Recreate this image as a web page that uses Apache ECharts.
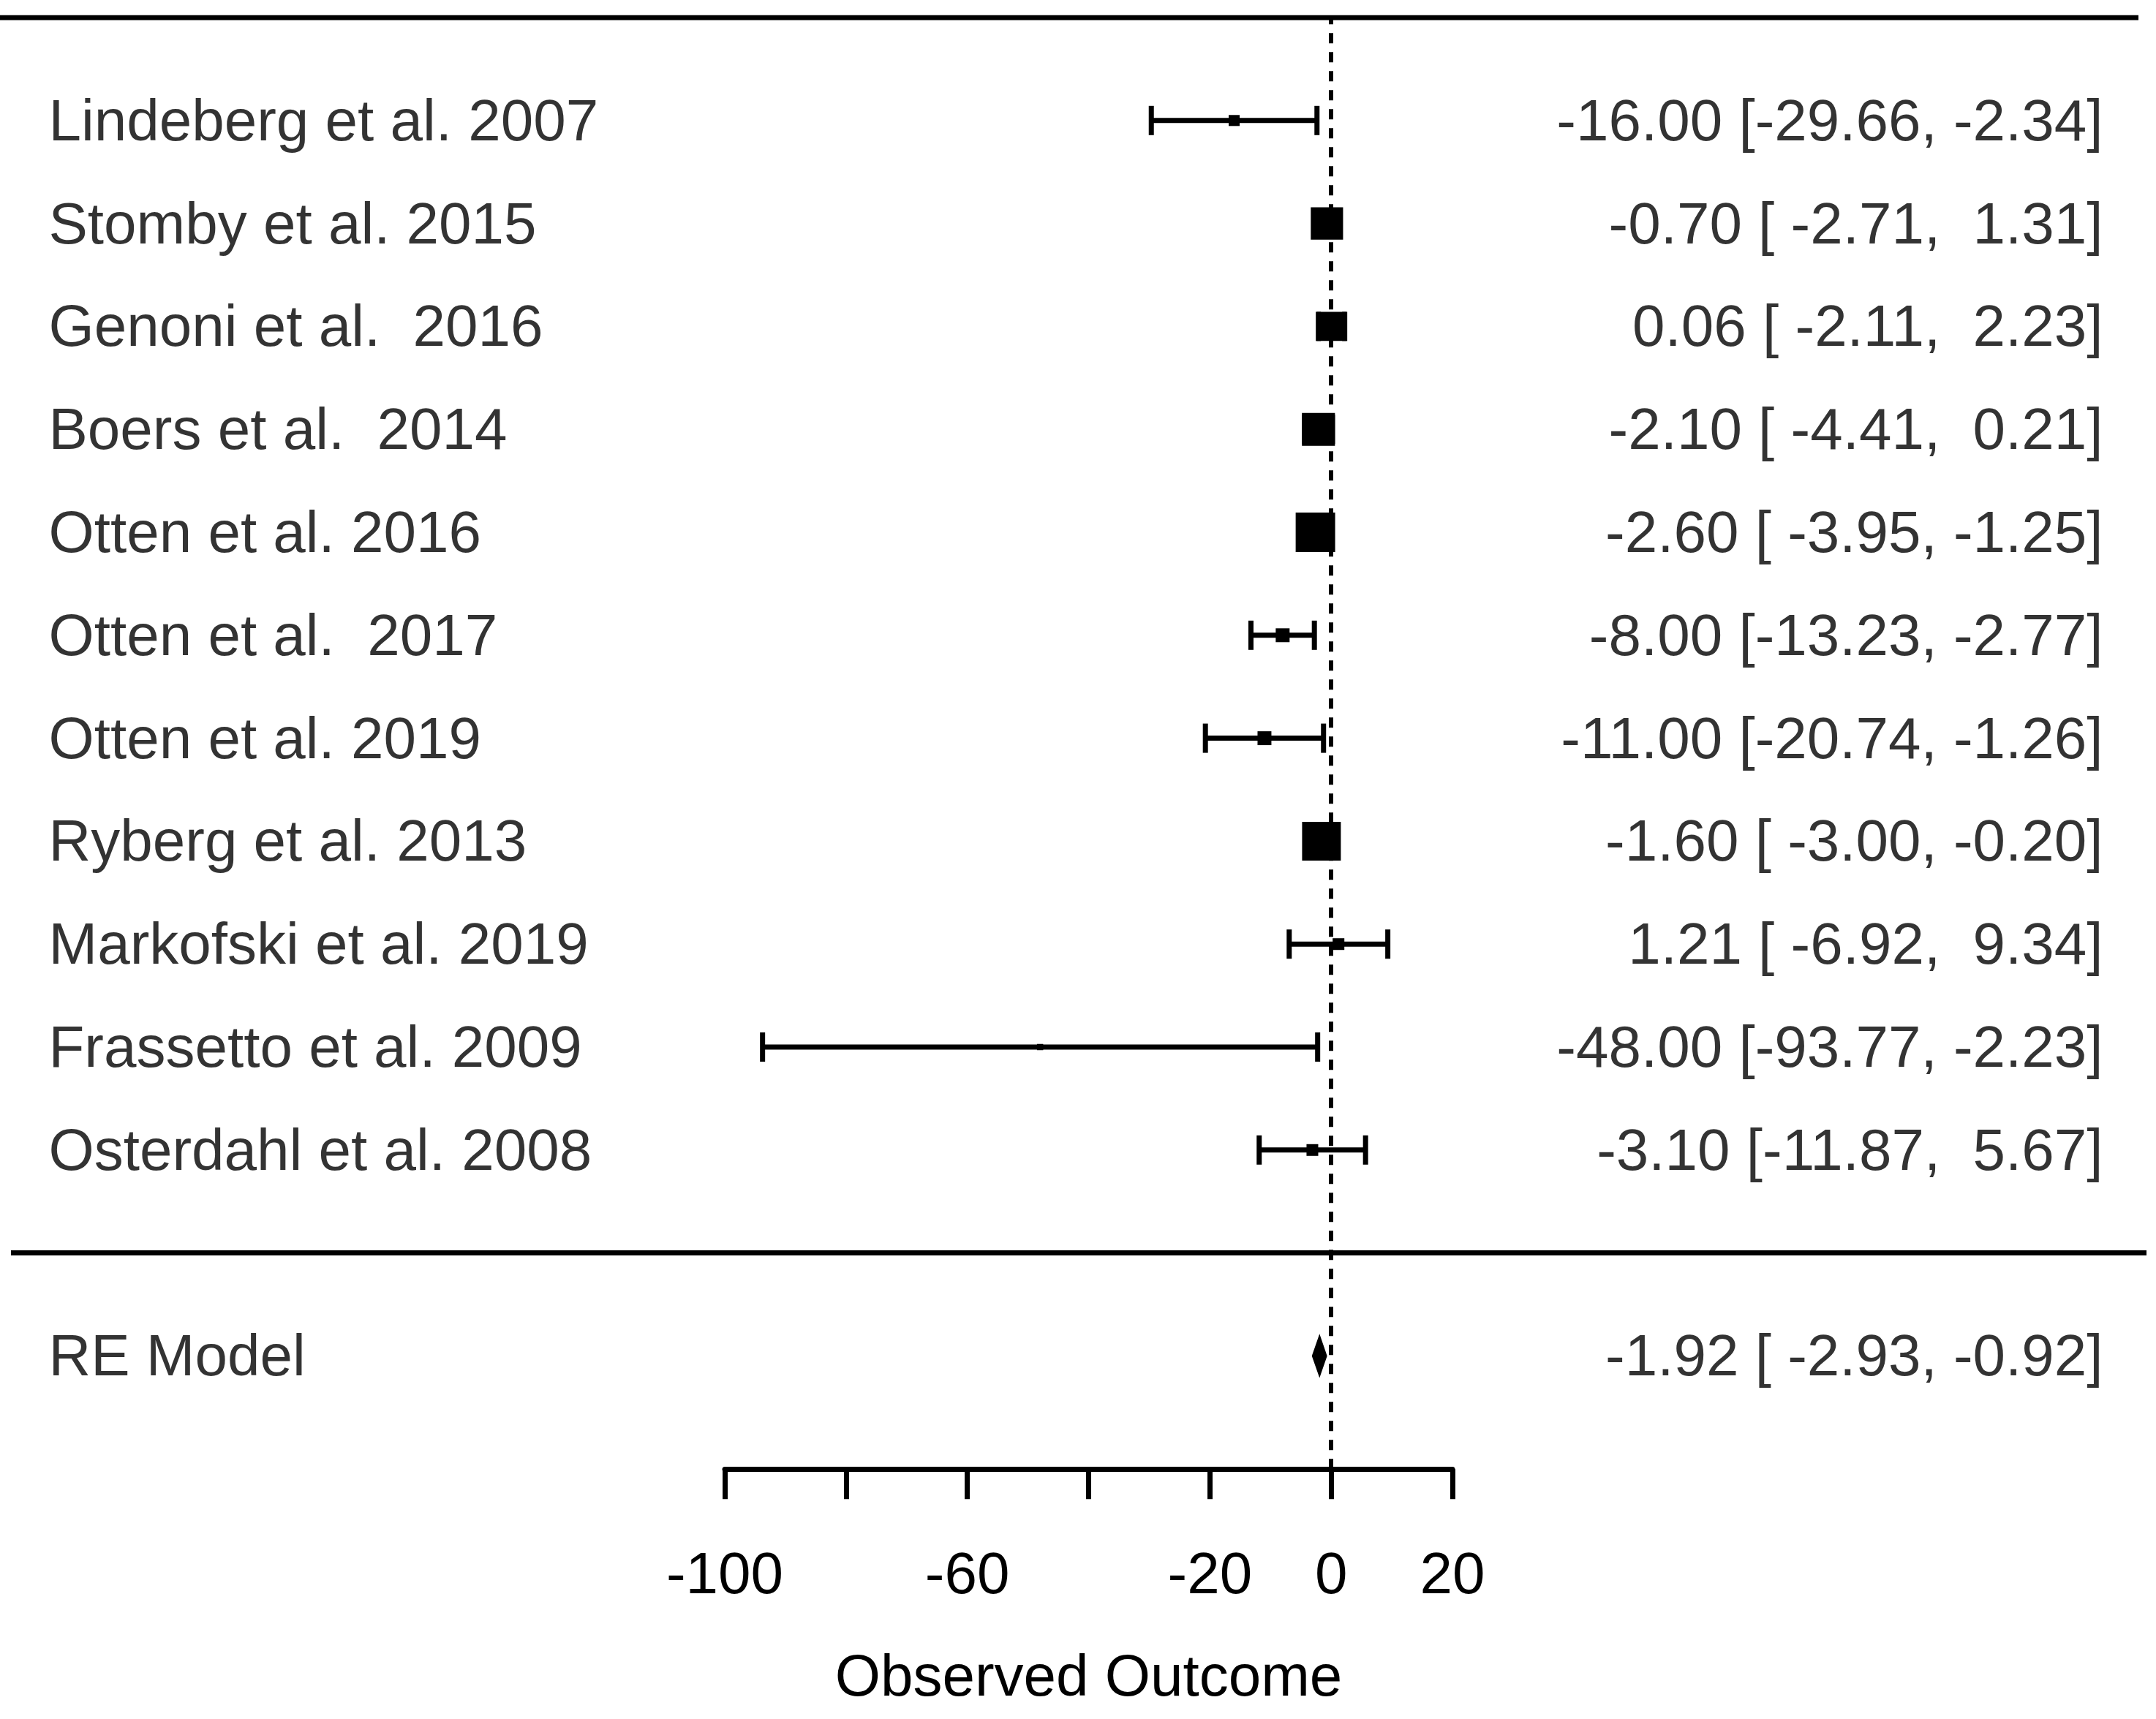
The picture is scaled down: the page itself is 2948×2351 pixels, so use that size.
<!DOCTYPE html>
<html>
<head>
<meta charset="utf-8">
<title>Forest plot</title>
<script src="https://cdn.jsdelivr.net/npm/echarts@6/dist/echarts.min.js"></script>
<style>
  html, body { margin: 0; padding: 0; background: #fff; }
  #chart { width: 2948px; height: 2351px; }
</style>
</head>
<body>
<div id="chart"></div>
<script>
// study data
const studies = ['Lindeberg et al. 2007', 'Stomby et al. 2015', 'Genoni et al.  2016', 'Boers et al.  2014',
    'Otten et al. 2016', 'Otten et al.  2017', 'Otten et al. 2019', 'Ryberg et al. 2013',
    'Markofski et al. 2019', 'Frassetto et al. 2009', 'Osterdahl et al. 2008'];
const estimates = [-16.00, -0.70, 0.06, -2.10, -2.60, -8.00, -11.00, -1.60, 1.21, -48.00, -3.10];
const lower = [-29.66, -2.71, -2.11, -4.41, -3.95, -13.23, -20.74, -3.00, -6.92, -93.77, -11.87];
const upper = [-2.34, 1.31, 2.23, 0.21, -1.25, -2.77, -1.26, -0.20, 9.34, -2.23, 5.67];
// relative box weights (%)
const weights = [4.6, 13.5, 12.2, 13.8, 16.5, 5.8, 5.8, 16.2, 4.9, 2.6, 4.9];

// pooled estimate
const summaryLabel = 'RE Model';
const summaryEst = -1.92;
const summaryLower = -2.93;
const summaryUpper = -0.92;

// x axis
const tickValues = [-100, -80, -60, -40, -20, 0, 20];
const tickLabels = ['-100', '', '-60', '', '-20', '0', '20'];
const axisTitle = 'Observed Outcome';

// layout
const FONT = 'Liberation Sans, Arial, sans-serif';
const FS = 80;
const TOP = 24;
const ROW = 140.8;
const YMIN = -2.1, YMAX = 12;
const PLOT_LEFT = 991, PLOT_W = 995;
const LW = 7;
const PX_PER_UNIT = PLOT_W / (tickValues[tickValues.length - 1] - tickValues[0]);
const X0MIN = tickValues[0] - PLOT_LEFT / PX_PER_UNIT;
const X0MAX = X0MIN + 2948 / PX_PER_UNIT;
const toUnit = px => X0MIN + px / PX_PER_UNIT;

const k = studies.length;
const rows = studies.map((s, i) => k - i);   // 11 .. 1
const summaryRow = -1;

function pad(str, w) {
    while (str.length < w) str = ' ' + str;
    return str;
}
function ciText(e, l, u) {
    return pad(e.toFixed(2), 6) + ' [' + pad(l.toFixed(2), 6) + ', ' + pad(u.toFixed(2), 5) + ']';
}

const leftData = studies.map((s, i) => ({ value: [toUnit(66), rows[i]], name: s }));
leftData.push({ value: [toUnit(66), summaryRow], name: summaryLabel });
const rightData = studies.map((s, i) => ({ value: [toUnit(2876), rows[i]], name: ciText(estimates[i], lower[i], upper[i]) }));
rightData.push({ value: [toUnit(2876), summaryRow], name: ciText(summaryEst, summaryLower, summaryUpper) });

const ciData = studies.map((s, i) => [estimates[i], lower[i], upper[i], rows[i], weights[i]]);

let chart = echarts.init(document.getElementById('chart'), null, { renderer: 'canvas' });

let textLabel = {
    show: true, distance: 0, formatter: p => p.name, offset: [0, 5],
    color: '#000', fontSize: FS, fontFamily: FONT, verticalAlign: 'middle'
};

let option = {
    animation: false,
    backgroundColor: '#fff',
    grid: [
        { left: 0, top: TOP, width: 2948, height: (YMAX - YMIN) * ROW },
        { left: PLOT_LEFT, top: TOP, width: PLOT_W, height: (YMAX - YMIN) * ROW }
    ],
    xAxis: [
        { gridIndex: 0, type: 'value', min: X0MIN, max: X0MAX, show: false },
        {
            gridIndex: 1, type: 'value', min: -100, max: 20, interval: 20,
            position: 'bottom',
            splitLine: { show: false },
            axisLine: { show: true, onZero: false, lineStyle: { color: '#000', width: LW } },
            axisTick: { show: true, inside: false, length: 41, lineStyle: { color: '#000', width: LW } },
            axisLabel: {
                show: true, margin: 108, color: '#000', fontSize: FS, fontFamily: FONT,
                formatter: v => {
                    let idx = tickValues.indexOf(v);
                    return idx >= 0 ? tickLabels[idx] : '';
                }
            },
            name: axisTitle,
            nameLocation: 'middle',
            nameGap: 248,
            nameTextStyle: { color: '#000', fontSize: FS, fontFamily: FONT }
        }
    ],
    yAxis: [
        { gridIndex: 0, type: 'value', min: YMIN, max: YMAX, show: false },
        { gridIndex: 1, type: 'value', min: YMIN, max: YMAX, show: false }
    ],
    series: [
        // frame lines (top rule and separator above the summary row)
        {
            type: 'line', xAxisIndex: 0, yAxisIndex: 0, symbol: 'none', silent: true,
            lineStyle: { color: '#000', width: LW },
            data: [[toUnit(0), YMAX], [toUnit(2924), YMAX]]
        },
        {
            type: 'line', xAxisIndex: 0, yAxisIndex: 0, symbol: 'none', silent: true,
            lineStyle: { color: '#000', width: LW },
            data: [[toUnit(15), 0], [toUnit(2935), 0]]
        },
        // study labels
        {
            type: 'scatter', xAxisIndex: 0, yAxisIndex: 0, symbolSize: 1,
            itemStyle: { color: 'rgba(0,0,0,0)' },
            label: Object.assign({ position: 'right' }, textLabel),
            data: leftData
        },
        // estimate text column
        {
            type: 'scatter', xAxisIndex: 0, yAxisIndex: 0, symbolSize: 1,
            itemStyle: { color: 'rgba(0,0,0,0)' },
            label: Object.assign({ position: 'left' }, textLabel),
            data: rightData
        },
        // confidence intervals and boxes
        {
            type: 'custom', xAxisIndex: 1, yAxisIndex: 1, clip: false,
            renderItem: function (params, api) {
                let est = api.coord([api.value(0), api.value(3)]);
                let lo = api.coord([api.value(1), api.value(3)]);
                let hi = api.coord([api.value(2), api.value(3)]);
                let side = api.value(4) * 3.27;
                let cap = 20;
                let st = { stroke: '#000', lineWidth: LW };
                return {
                    type: 'group',
                    children: [
                        { type: 'line', shape: { x1: lo[0], y1: lo[1], x2: hi[0], y2: hi[1] }, style: st },
                        { type: 'line', shape: { x1: lo[0], y1: lo[1] - cap, x2: lo[0], y2: lo[1] + cap }, style: st },
                        { type: 'line', shape: { x1: hi[0], y1: hi[1] - cap, x2: hi[0], y2: hi[1] + cap }, style: st },
                        { type: 'rect', shape: { x: est[0] - side / 2, y: est[1] - side / 2, width: side, height: side }, style: { fill: '#000' } }
                    ]
                };
            },
            data: ciData,
            markLine: {
                silent: true, symbol: 'none', label: { show: false },
                lineStyle: { color: '#000', width: 6, type: [14, 12] },
                data: [{ xAxis: 0 }]
            }
        },
        // summary diamond
        {
            type: 'custom', xAxisIndex: 1, yAxisIndex: 1, clip: false,
            renderItem: function (params, api) {
                let y = api.value(3);
                let a = api.coord([api.value(1), y]);
                let m = api.coord([api.value(0), y]);
                let b = api.coord([api.value(2), y]);
                let h = 24;
                return {
                    type: 'polygon',
                    shape: { points: [[a[0], a[1]], [m[0], m[1] - h], [b[0], b[1]], [m[0], m[1] + h]] },
                    style: { fill: '#000', stroke: '#000', lineWidth: 4 }
                };
            },
            data: [[summaryEst, summaryLower, summaryUpper, summaryRow]]
        }
    ]
};

option && chart.setOption(option);
window.addEventListener('resize', function () {
    chart.resize();
});
</script>
</body>
</html>
